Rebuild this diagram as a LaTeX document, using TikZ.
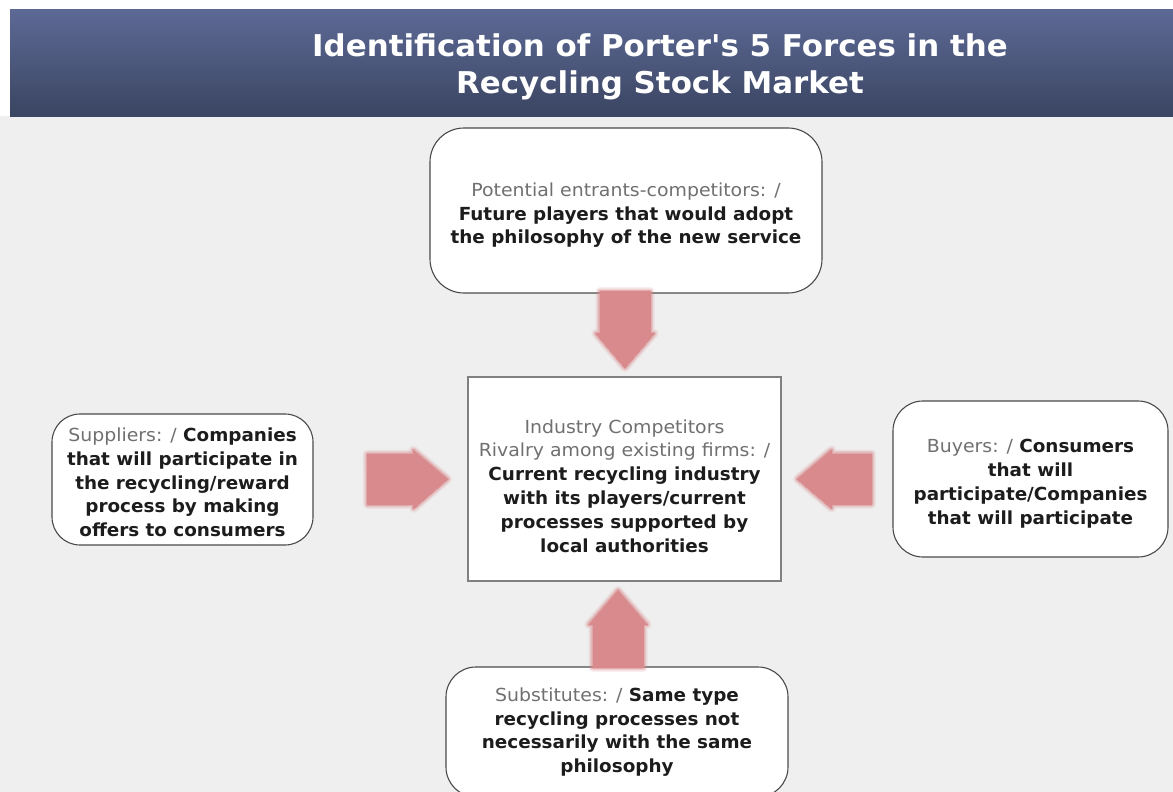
\documentclass[tikz,border=0pt]{standalone}
\usepackage{fontspec}
\setmainfont{DejaVu Sans}[FakeStretch=1.02]
\newfontfamily\lblfont{DejaVu Sans}[FakeStretch=1.05]
\newfontfamily\titlefont{DejaVu Sans}[FakeStretch=1.03]
\usetikzlibrary{calc}
\definecolor{bg}{HTML}{EFEFEF}
\definecolor{bartop}{HTML}{5D6995}
\definecolor{barbot}{HTML}{3A4562}
\definecolor{lbl}{HTML}{707070}
\definecolor{txt}{HTML}{1C1C1C}
\definecolor{arr}{HTML}{D88A8D}
\definecolor{bord}{HTML}{4A4A4A}
\newcommand\lb[1]{{\lblfont\color{lbl}\mdseries #1}}
\newcommand\dn[1]{\\[\dimexpr-23.5pt-#1pt-#1pt\relax]}
\newcommand\fatarrow[2]{%
  \path (#1) coordinate (fa-s) (#2) coordinate (fa-t);
  \path ($(fa-t)!34pt!(fa-s)$) coordinate (fa-h);
  \foreach \w/\o in {9/0.15,6/0.3,3/0.5,0/1}{%
  \filldraw[fill=arr, draw=arr, line width=\w pt, line join=round, opacity=\o]
    ($(fa-s)!25pt!90:(fa-t)$) -- ($(fa-h)!25pt!90:(fa-t)$) -- ($(fa-h)!29pt!90:(fa-t)$)
    -- (fa-t) -- ($(fa-h)!29pt!-90:(fa-t)$) -- ($(fa-h)!25pt!-90:(fa-t)$)
    -- ($(fa-s)!25pt!-90:(fa-t)$) -- cycle;}
}
\begin{document}
\begin{tikzpicture}[x=1pt,y=-1pt,
  forcebox/.style={draw=bord, line width=1.1pt, fill=white, rounded corners=#1,
    align=center, font=\fontsize{18}{23.8}\selectfont\bfseries, text=txt, inner sep=0pt},
  titletext/.style={align=center, text=white, font=\titlefont\bfseries\fontsize{30}{37}\selectfont}
]
\useasboundingbox (0,0) rectangle (1173,792);
\clip (0,0) rectangle (1173,792);
\fill[bg] (0,0) rectangle (1173,792);
\fill[white] (0,0) rectangle (1173,10);
\fill[white] (0,0) rectangle (10,116);
\shade[top color=bartop, bottom color=barbot] (10,10) rectangle (1173,116);
\node[titletext] (title) at (660,67) {Identification of Porter's 5 Forces in the\\Recycling Stock Market};

\node[forcebox=34pt, minimum width=392pt, minimum height=165pt] (top) at (626,210.5)
  {\lb{Potential entrants-competitors: /}\\Future players that would adopt\\the philosophy of the new service\dn{3}};
\node[forcebox=0pt, draw=gray, minimum width=313pt, minimum height=204pt] (center) at (624.5,479)
  {\lb{Industry Competitors}\\\lb{Rivalry among existing firms: /}\\Current recycling industry\\with its players/current\\processes supported by\\local authorities\dn{7}};
\node[forcebox=28pt, minimum width=261pt, minimum height=131pt] (left) at (182.5,479.5)
  {\lb{Suppliers: /} Companies\\that will participate in\\the recycling/reward\\process by making\\offers to consumers\dn{3}};
\node[forcebox=30pt, minimum width=275pt, minimum height=156pt] (right) at (1030.5,479)
  {\lb{Buyers: /} Consumers\\that will\\participate/Companies\\that will participate\dn{3}};
\node[forcebox=30pt, minimum width=342pt, minimum height=130pt] (bottom) at (617,732)
  {\lb{Substitutes: /} Same type\\recycling processes not\\necessarily with the same\\philosophy};

\fatarrow{$(top.south)+(-1,-2)$}{$(center.north)+(0.5,-9)$}
\fatarrow{$(bottom.north)+(1,1)$}{$(center.south)+(-6.5,9)$}
\fatarrow{$(left.east)+(54,0)$}{$(center.west)+(-20,0)$}
\fatarrow{$(right.west)+(-21,0)$}{$(center.east)+(16,0)$}
\end{tikzpicture}
\end{document}
